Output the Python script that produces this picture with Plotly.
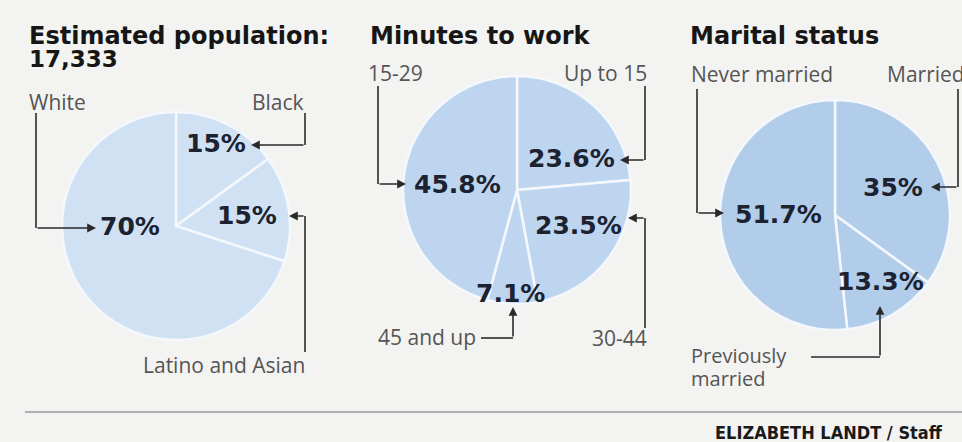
import plotly.graph_objects as go

W, H = 962, 442

# ---- data ----
pop_total = 17333
race_labels = ["Black", "Latino and Asian", "White"]
race_values = [15, 15, 70]
commute_labels = ["Up to 15", "30-44", "45 and up", "15-29"]
commute_values = [23.6, 23.5, 7.1, 45.8]
marital_labels = ["Married", "Previously married", "Never married"]
marital_values = [35, 13.3, 51.7]
titles = ["Estimated population:", "Minutes to work", "Marital status"]
credit = "ELIZABETH LANDT / Staff"


def px(x):
    return x / W


def py(y):
    return 1 - y / H


def dom(cx, cy, r):
    return dict(x=[px(cx - r), px(cx + r)], y=[py(cy + r), py(cy - r)])


BG = "#f3f3f1"
TXT = "#1c2230"
GRAY = "#555555"
LINE = "#2a2a2a"

fig = go.Figure()
pies = [
    (race_labels, race_values, (176, 226, 114), "#cfe1f3"),
    (commute_labels, commute_values, (517, 190, 114), "#bdd5ee"),
    (marital_labels, marital_values, (835, 215, 115), "#b2cdea"),
]
for labels, values, (cx, cy, r), col in pies:
    fig.add_trace(go.Pie(
        labels=labels, values=values, sort=False, direction="clockwise", rotation=0,
        marker=dict(colors=[col] * len(values), line=dict(color="#f4f8fc", width=2.5)),
        textinfo="none", hoverinfo="label+percent", showlegend=False,
        domain=dom(cx, cy, r),
    ))

ann = []


def text(s, x, y, size, color, family, xanchor="center", bold=False):
    ann.append(dict(text=f"<b>{s}</b>" if bold else s, x=px(x), y=py(y), xref="paper", yref="paper",
                    xanchor=xanchor, yanchor="middle", showarrow=False,
                    font=dict(size=size, color=color, family=family)))


TF = "DejaVu Sans"
LF = "Open Sans"

# titles
text(titles[0], 27, 36, 24, "#161616", TF, "left", True)
text(f"{pop_total:,}", 27, 59, 23, "#161616", TF, "left", True)
text(titles[1], 368, 36, 24, "#161616", TF, "left", True)
text(titles[2], 688, 36, 24, "#161616", TF, "left", True)

# category labels
text(race_labels[2], 27, 102, 21, GRAY, LF, "left")
text(race_labels[0], 306, 102, 21, GRAY, LF, "right")
text(race_labels[1], 307, 365, 21, GRAY, LF, "right")
text(commute_labels[3], 366, 73, 21, GRAY, LF, "left")
text(commute_labels[0], 649, 73, 21, GRAY, LF, "right")
text(commute_labels[2], 478, 337, 21, GRAY, LF, "right")
text(commute_labels[1], 649, 338, 21, GRAY, LF, "right")
text("Never married", 689, 74, 21, GRAY, LF, "left")
text("Married", 885, 74, 21, GRAY, LF, "left")
text("Previously", 689, 355, 20, GRAY, LF, "left")
text("married", 689, 378, 20, GRAY, LF, "left")


def pct(v):
    return f"{v:g}%"


PF = "DejaVu Sans"
PS = 25
# percentage labels
text(pct(race_values[2]), 130, 227, PS, TXT, PF, bold=True)
text(pct(race_values[0]), 216, 144, PS, TXT, PF, bold=True)
text(pct(race_values[1]), 247, 215, PS, TXT, PF, bold=True)
text(pct(commute_values[3]), 457, 184, PS, TXT, PF, bold=True)
text(pct(commute_values[0]), 571, 158, PS, TXT, PF, bold=True)
text(pct(commute_values[1]), 578, 225, PS, TXT, PF, bold=True)
text(pct(commute_values[2]), 511, 293, PS, TXT, PF, bold=True)
text(pct(marital_values[2]), 778, 214, PS, TXT, PF, bold=True)
text(pct(marital_values[0]), 893, 187, PS, TXT, PF, bold=True)
text(pct(marital_values[1]), 880, 281, PS, TXT, PF, bold=True)

shapes = []


def leader(start, corner, tip):
    shapes.append(dict(type="line", xref="paper", yref="paper",
                       x0=px(start[0]), y0=py(start[1]), x1=px(corner[0]), y1=py(corner[1]),
                       line=dict(color=LINE, width=1.6)))
    ann.append(dict(text="", x=px(tip[0]), y=py(tip[1]), xref="paper", yref="paper",
                    ax=corner[0] - tip[0], ay=corner[1] - tip[1], axref="pixel", ayref="pixel",
                    showarrow=True, arrowhead=2, arrowsize=1.1, arrowwidth=1.6, arrowcolor=LINE,
                    standoff=0, startstandoff=0))


leader((36, 113), (36, 228), (96, 228))
leader((305, 113), (305, 145), (251, 145))
leader((305, 352), (305, 216), (289, 216))
leader((378, 86), (378, 184), (406, 184))
leader((645, 86), (645, 160), (620, 160))
leader((645, 328), (645, 218), (628, 218))
leader((481, 338), (513, 338), (513, 307))
leader((697, 89), (697, 213), (724, 213))
leader((958, 89), (958, 187), (931, 187))
leader((811, 357), (880, 357), (880, 306))

# bottom rule and credit
shapes.append(dict(type="line", xref="paper", yref="paper", x0=px(25), y0=py(412), x1=1, y1=py(412),
                   line=dict(color="#9a9a9a", width=1.5)))
ann.append(dict(text=f"<b>{credit}</b>", x=px(713), y=py(432), xref="paper", yref="paper",
                xanchor="left", yanchor="middle", showarrow=False,
                font=dict(size=18, color="#1a1a1a", family="Liberation Sans Narrow, DejaVu Sans Condensed, DejaVu Sans")))

fig.update_layout(
    width=W, height=H, margin=dict(l=0, r=0, t=0, b=0),
    paper_bgcolor=BG, plot_bgcolor=BG,
    annotations=ann, shapes=shapes, showlegend=False,
)

fig.write_html("out.html", config={"displayModeBar": False},
               post_script="document.body.style.margin='0';document.body.style.background='#f3f3f1';")
